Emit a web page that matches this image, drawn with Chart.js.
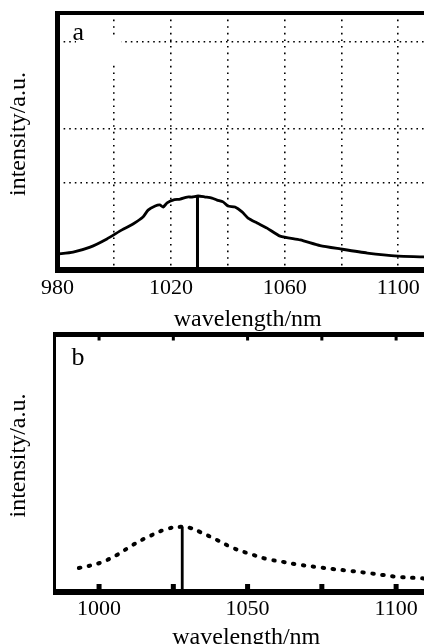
<!DOCTYPE html>
<html>
<head>
<meta charset="utf-8">
<script src="https://cdn.jsdelivr.net/npm/chart.js@4.4.1/dist/chart.umd.min.js"></script>
<style>
  html, body { margin: 0; padding: 0; background: #fff; }
  body { width: 424px; height: 644px; overflow: hidden; position: relative; }
  canvas { position: absolute; left: 0; }
  #chartA { top: 0; }
  #chartB { top: 320px; }
</style>
</head>
<body>
<canvas id="chartA" width="440" height="338"></canvas>
<canvas id="chartB" width="440" height="336"></canvas>
<script>
// panel a – measured spectrum (solid line)
const wavelengthA = [980, 985.5, 991.5, 997.4, 1002.7, 1006.6, 1010.1, 1011.9, 1014.4, 1016.1, 1017.2, 1018.6,
    1020.7, 1023.2, 1025.7, 1027.4, 1029.5, 1032.0, 1034.4, 1036.2, 1038.3, 1040.0, 1042.5, 1045.0,
    1047.1, 1050.3, 1053.8, 1058.4, 1065.5, 1072.5, 1079.6, 1089.1, 1100.0, 1108.8, 1114.1];
const intensityA = [6.2, 7.0, 8.9, 12.1, 15.6, 17.9, 20.6, 23.3, 24.9, 25.3, 24.5, 26.1,
    27.2, 27.6, 28.4, 28.4, 28.8, 28.4, 28.0, 27.2, 26.5, 24.9, 24.5, 22.6,
    20.2, 18.3, 16.3, 13.2, 11.7, 9.5, 8.2, 6.6, 5.4, 5.1, 4.7];
const peakA = 1029.3;
const peakHeightA = 28.6;
const xTicksA = [980, 1000, 1020, 1040, 1060, 1080, 1100];
const xLabelsA = [980, 1020, 1060, 1100];
const yGridA = [33.9, 54.9, 88.7];

// panel b – simulated spectrum (dotted line)
const wavelengthB = [993.2, 1000.3, 1006.0, 1011.4, 1017.2, 1022.9, 1027.3, 1030.6, 1034.0, 1039.7, 1045.1,
    1050.8, 1056.5, 1061.9, 1067.7, 1073.4, 1078.8, 1084.5, 1090.2, 1095.6, 1101.3, 1107.4, 1114];
const intensityB = [9.3, 11.3, 14.4, 18.3, 21.8, 24.5, 25.3, 24.9, 23.3, 20.2, 17.1,
    14.8, 12.8, 11.7, 10.5, 9.7, 8.9, 8.2, 7.4, 6.6, 5.8, 5.4, 5.0];
const peakB = 1028;
const peakHeightB = 25.3;
const xTicksB = [1000, 1025, 1050, 1075, 1100];
const xLabelsB = [1000, 1050, 1100];

const serif = '"Liberation Serif", "Times New Roman", serif';
Chart.defaults.font.family = serif;
Chart.defaults.color = '#000';

function toPoints(xs, ys) {
    return xs.map((x, i) => ({ x: x, y: ys[i] }));
}

// frame, panel letter, y title and inward ticks
const framePlugin = {
    id: 'frame',
    afterDraw(chart, args, opts) {
        const ctx = chart.ctx;
        const a = chart.chartArea;
        ctx.save();
        if (opts.box) {
            ctx.fillStyle = '#fff';
            ctx.fillRect(a.left + opts.box[0], a.top + opts.box[1], opts.box[2], opts.box[3]);
        }
        ctx.fillStyle = '#000';
        ctx.font = '26px ' + serif;
        ctx.fillText(opts.label, a.left + opts.labelPos[0], a.top + opts.labelPos[1]);

        // y title
        ctx.save();
        ctx.translate(18.4, a.top + 121);
        ctx.rotate(-Math.PI / 2);
        ctx.font = '24px ' + serif;
        ctx.textAlign = 'center';
        ctx.textBaseline = 'middle';
        ctx.fillText('intensity/a.u.', 0, 0);
        ctx.restore();

        ctx.strokeStyle = '#000';
        ctx.lineWidth = opts.left;
        ctx.beginPath();
        ctx.moveTo(a.left, a.top - opts.top / 2);
        ctx.lineTo(a.left, a.bottom + opts.bottom / 2);
        ctx.stroke();
        ctx.lineWidth = opts.top;
        ctx.beginPath();
        ctx.moveTo(a.left - opts.left / 2, a.top);
        ctx.lineTo(chart.width, a.top);
        ctx.stroke();
        ctx.lineWidth = opts.bottom;
        ctx.beginPath();
        ctx.moveTo(a.left - opts.left / 2, a.bottom);
        ctx.lineTo(chart.width, a.bottom);
        ctx.stroke();

        if (opts.ticks) {
            const xs = chart.scales.x;
            xs.ticks.forEach(t => {
                const px = xs.getPixelForValue(t.value);
                ctx.fillRect(px - 2.5, a.bottom - 8, 5, 8);
                ctx.fillRect(px - 1.5, a.top, 3, 6);
            });
        }
        ctx.restore();
    }
};

const dotted = { color: '#000', lineWidth: 1.6, drawTicks: false };

new Chart(document.getElementById('chartA'), {
    type: 'line',
    data: {
        datasets: [
            { data: toPoints(wavelengthA, intensityA), borderColor: '#000', borderWidth: 2.8, pointRadius: 0, tension: 0.2 },
            { data: [{ x: peakA, y: 0 }, { x: peakA, y: peakHeightA }], borderColor: '#000', borderWidth: 3, pointRadius: 0 }
        ]
    },
    options: {
        responsive: false,
        animation: false,
        layout: { padding: { top: 13, right: 2, left: 0, bottom: 0 } },
        plugins: {
            legend: { display: false },
            tooltip: { enabled: false },
            frame: { left: 5, top: 4, bottom: 6, label: 'a', labelPos: [15, 26.5], box: [18.5, 23, 45, 26] }
        },
        scales: {
            x: {
                type: 'linear', min: 980, max: 1114,
                afterBuildTicks: s => { s.ticks = xTicksA.map(v => ({ value: v })); },
                afterFit: s => { s.height = 68; },
                grid: dotted,
                border: { display: false, dash: [1.6, 5] },
                ticks: { padding: 5, font: { size: 22 }, maxRotation: 0, autoSkip: false,
                    callback: v => xLabelsA.includes(v) ? String(v) : '' },
                title: { display: true, text: 'wavelength/nm', font: { size: 24, lineHeight: 1.2 }, padding: { top: 4, bottom: 4 } }
            },
            y: {
                min: 0, max: 100,
                afterBuildTicks: s => { s.ticks = yGridA.map(v => ({ value: v })); },
                afterFit: s => { s.width = 57.5; },
                grid: dotted,
                border: { display: false, dash: [1.6, 4] },
                ticks: { display: false }
            }
        }
    },
    plugins: [framePlugin]
});

new Chart(document.getElementById('chartB'), {
    type: 'line',
    data: {
        datasets: [
            { data: toPoints(wavelengthB, intensityB), borderColor: '#000', borderWidth: 4, borderDash: [1.5, 8.5],
              borderCapStyle: 'round', pointRadius: 0, tension: 0.4 },
            { data: [{ x: peakB, y: 0 }, { x: peakB, y: peakHeightB }], borderColor: '#000', borderWidth: 2.8, pointRadius: 0 }
        ]
    },
    options: {
        responsive: false,
        animation: false,
        layout: { padding: { top: 14.5, right: 2, left: 0, bottom: 0 } },
        plugins: {
            legend: { display: false },
            tooltip: { enabled: false },
            frame: { left: 3, top: 5, bottom: 6, label: 'b', labelPos: [17, 30.5], ticks: true }
        },
        scales: {
            x: {
                type: 'linear', min: 985, max: 1114.1,
                afterBuildTicks: s => { s.ticks = xTicksB.map(v => ({ value: v })); },
                afterFit: s => { s.height = 64; },
                grid: { display: false, drawTicks: false },
                border: { display: false },
                ticks: { padding: 4, font: { size: 22 }, maxRotation: 0, autoSkip: false,
                    callback: v => xLabelsB.includes(v) ? String(v) : '' },
                title: { display: true, text: 'wavelength/nm', font: { size: 24, lineHeight: 1.2 }, padding: { top: 4, bottom: 4 } }
            },
            y: {
                min: 0, max: 100,
                afterFit: s => { s.width = 54.5; },
                grid: { display: false, drawTicks: false },
                border: { display: false },
                ticks: { display: false }
            }
        }
    },
    plugins: [framePlugin]
});
</script>
</body>
</html>
